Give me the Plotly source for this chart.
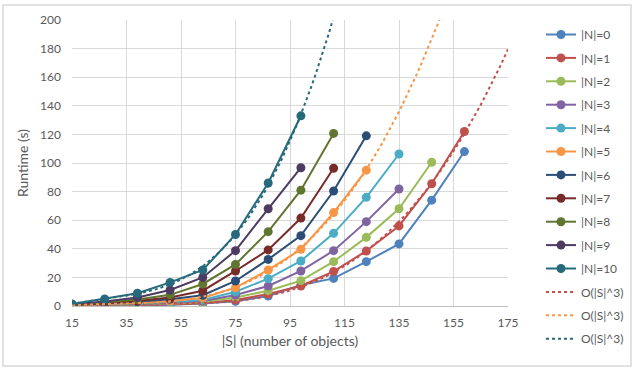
import numpy as np
import plotly.graph_objects as go

S_VALUES = [15, 27, 39, 51, 63, 75, 87, 99, 111, 123, 135, 147, 159]

N0 = [0.2, 0.3, 0.5, 0.8, 1.7, 3.3, 7.0, 14.7, 19.3, 31.0, 43.4, 74.0, 108.0]
N1 = [0.2, 0.4, 0.7, 1.0, 2.0, 4.2, 8.4, 14.0, 24.2, 38.5, 56.0, 85.5, 122.0]
N2 = [0.3, 0.6, 1.0, 1.5, 2.8, 6.0, 10.7, 17.7, 31.0, 48.0, 68.0, 100.5]
N3 = [0.3, 0.8, 1.4, 2.0, 3.5, 7.7, 14.0, 24.5, 38.7, 59.0, 81.8]
N4 = [0.4, 1.0, 1.8, 2.6, 4.2, 10.0, 19.1, 31.5, 50.8, 76.0, 106.3]
N5 = [0.5, 1.3, 2.3, 3.5, 5.6, 12.8, 25.2, 39.6, 65.3, 95.0]
N6 = [0.6, 1.6, 2.9, 4.8, 7.5, 17.5, 32.6, 49.2, 80.4, 119.0]
N7 = [0.7, 2.0, 3.6, 6.0, 10.7, 24.5, 39.2, 61.5, 96.3]
N8 = [0.8, 2.5, 4.5, 7.8, 15.4, 29.1, 52.0, 81.0, 120.7]
N9 = [1.0, 3.2, 6.0, 11.2, 20.0, 38.7, 68.0, 96.7]
N10 = [1.4, 4.9, 8.9, 16.5, 25.2, 50.0, 86.0, 133.0]

SERIES = [N0, N1, N2, N3, N4, N5, N6, N7, N8, N9, N10]
NAMES = ["|N|=%d" % i for i in range(11)]
COLORS = ["#4F81BD", "#C0504D", "#9BBB59", "#8064A2", "#4BACC6", "#F79646",
          "#2C4D75", "#772C2A", "#5F7530", "#4D3B62", "#276A7C"]

TREND_SOURCES = [1, 5, 10]   # series that carry a cubic trendline
TREND_NAME = "O(|S|^3)"
X_TICKS = [15, 35, 55, 75, 95, 115, 135, 155, 175]
Y_TICKS = [0, 20, 40, 60, 80, 100, 120, 140, 160, 180, 200]

FONT = "Lato, 'Liberation Sans', sans-serif"
TXT = "#595959"
GRID = "#D9D9D9"

fig = go.Figure()
for i, (vals, name, col) in enumerate(zip(SERIES, NAMES, COLORS)):
    fig.add_trace(go.Scatter(
        x=S_VALUES[:len(vals)], y=vals, name=name, legendgroup=name,
        mode="lines+markers",
        line=dict(color=col, width=2),
        marker=dict(color=col, size=9),
    ))

for k, idx in enumerate(TREND_SOURCES):
    vals = SERIES[idx]
    xs = np.array(S_VALUES[:len(vals)], dtype=float)
    coef = np.polyfit(xs, np.array(vals, dtype=float), 3)
    xf = np.linspace(15, 175, 161)
    fig.add_trace(go.Scatter(
        x=xf, y=np.polyval(coef, xf), name=TREND_NAME, legendgroup="t%d" % k,
        mode="lines", line=dict(color=COLORS[idx], width=2, dash="dot"),
    ))

W, H = 634, 368
L, R, T, B = 72, 126, 20, 62
pw, ph = W - L - R, H - T - B

def px2paper_x(px):
    return (px - L) / pw

def px2paper_y(py):
    return (H - B - py) / ph

fig.add_shape(type="rect", xref="paper", yref="paper",
              x0=px2paper_x(3), x1=px2paper_x(631),
              y0=px2paper_y(366), y1=px2paper_y(5),
              line=dict(color=GRID, width=1.5), fillcolor="rgba(0,0,0,0)",
              layer="below")

fig.update_layout(
    width=W, height=H,
    margin=dict(l=L, r=R, t=T, b=B),
    paper_bgcolor="white", plot_bgcolor="white",
    font=dict(family=FONT, size=12, color=TXT),
    xaxis=dict(range=[15, 175], tickvals=X_TICKS, showgrid=True, gridcolor=GRID,
               gridwidth=1, zeroline=False, showline=True, linecolor="#BFBFBF",
               linewidth=1, ticks="", ticklabelstandoff=6,
               title=dict(text="|S| (number of objects)", font=dict(size=14, color=TXT),
                          standoff=6)),
    yaxis=dict(range=[0, 200], tickvals=Y_TICKS, showgrid=True, gridcolor=GRID,
               gridwidth=1, zeroline=False, showline=False, ticks="",
               ticklabelstandoff=10,
               title=dict(text="Runtime (s)", font=dict(size=14, color=TXT),
                          standoff=8)),
    showlegend=True,
    legend=dict(xref="container", yref="container", x=541 / W, y=1 - 20 / H,
                xanchor="left", yanchor="top", traceorder="grouped",
                tracegroupgap=4.4, font=dict(size=12, color=TXT),
                maxheight=360, bgcolor="rgba(0,0,0,0)"),
)

fig.write_html("out.html", config={"displayModeBar": False},
               post_script="document.body.style.margin='0px';")
